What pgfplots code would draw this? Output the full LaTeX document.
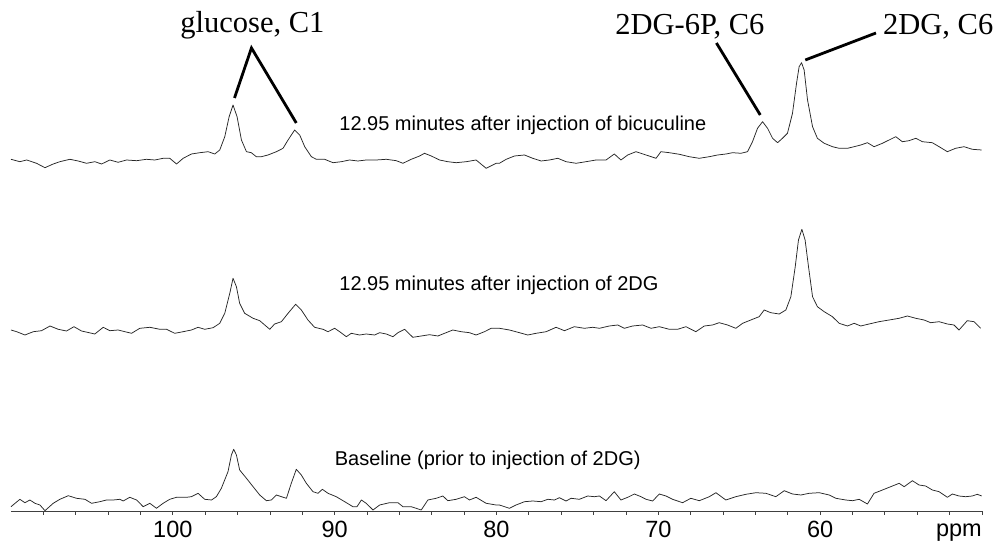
\documentclass[border=0pt]{standalone}
\usepackage{fontspec}
\setmainfont{Liberation Sans}
\newfontfamily\serif{Liberation Serif}
\usepackage{pgfplots}
\pgfplotsset{compat=1.18}

\begin{document}
\begin{tikzpicture}
\begin{axis}[
    scale only axis,
    width=971pt, height=511pt,
    xmin=50, xmax=110, ymin=0, ymax=511,
    x dir=reverse,
    axis x line*=bottom, axis y line=none,
    x axis line style={-, black!75, line width=0.9pt},
    xtick={60,70,80,90,100},
    minor xtick={50,52,...,108},
    tick align=outside,
    major tick length=4pt, minor tick length=4pt,
    every tick/.style={black!75, line width=0.8pt},
    xticklabel style={font=\fontsize{23.5}{25}\selectfont, inner sep=1pt, yshift=-4.5pt},
    /pgf/number format/assume math mode=true,
    clip=false,
    trace/.style={black!85, line width=0.75pt, line join=round},
]
% bottom: baseline (prior to injection of 2DG)
\addplot[trace] coordinates {
(110.00,4.3) (109.45,11.7) (109.14,8.3) (108.83,11) (108.52,7.7) (108.21,6) (107.90,0.3)
(107.39,7.7) (106.98,11.7) (106.46,15.3) (105.95,12.7) (105.43,11.7) (105.02,7.7) (104.51,9.3)
(104.10,11) (103.68,11) (103.27,11.7) (103.07,10) (102.66,13.7) (102.24,11) (101.83,4.3)
(101.42,7.7) (101.01,2.7) (100.60,7.7) (100.19,11.7) (99.77,13.7) (99.16,13.7) (98.85,14.3)
(98.44,17.7) (98.03,11.7) (97.61,11) (97.31,14.3) (97.00,22.7) (96.59,39.3) (96.38,56)
(96.24,61.7) (96.07,56) (95.87,41) (95.45,32.7) (95.04,24.3) (94.63,16) (94.22,10.3)
(93.91,11) (93.60,16) (93.29,14.3) (92.98,12.7) (92.68,27.7) (92.37,41.7) (92.06,36)
(91.75,27.7) (91.34,19.3) (91.03,17.7) (90.76,21.7) (90.41,17.7) (89.90,14.3) (89.38,9.3)
(88.87,4.3) (88.62,4.3) (88.35,11) (88.05,7.7) (87.63,1) (87.22,6) (86.61,8.3) (86.09,8.3)
(85.78,4.3) (85.27,4.3) (84.96,2.7) (84.65,1) (84.24,11) (83.73,12.7) (83.31,15) (83.01,10.3)
(82.49,11.7) (81.98,14.3) (81.67,11) (81.26,13.7) (80.64,7.7) (80.02,6) (79.82,6) (79.20,2.7)
(78.79,6) (78.27,9.3) (77.76,10) (77.24,9.3) (76.83,11.7) (76.42,11) (76.11,13.3) (75.91,11.7)
(75.70,10) (75.39,12.7) (74.88,11.7) (74.36,15) (73.95,14.3) (73.64,15) (73.23,10.3) (72.72,19.3)
(72.31,11) (71.89,13.7) (71.48,17) (71.07,14.3) (70.76,11.7) (70.35,10) (69.94,17) (69.53,15)
(69.12,11.7) (68.50,8.3) (67.99,12.7) (67.47,10.3) (66.85,14.3) (66.44,18.3) (65.83,11)
(65.21,14.3) (64.59,16.7) (63.97,18.3) (63.35,17.7) (62.74,14.3) (62.22,20.3) (61.71,17)
(61.19,16) (60.68,17.7) (60.06,18.3) (59.44,16) (59.03,12.7) (58.42,11) (58.00,10.3) (57.59,11.7)
(57.08,7) (56.67,17.7) (56.15,21) (55.64,24.3) (55.12,27.7) (54.81,24.3) (54.30,30.3) (53.89,26)
(53.48,25) (53.07,21) (52.65,19.3) (52.14,13.7) (51.83,17) (51.42,15) (51.01,14.3) (50.60,15)
(50.29,16.7) (50.02,15)
};
% middle: 12.95 minutes after injection of 2DG
\addplot[trace] coordinates {
(110.00,181) (109.65,179.3) (109.14,176) (108.62,179.3) (108.11,180.3) (107.59,185) (107.08,181.7)
(106.57,180) (106.11,184.3) (105.64,180) (104.82,177) (104.30,183.7) (103.89,180.3) (103.38,181)
(102.96,179.3) (102.55,177.7) (102.04,182.7) (101.42,183.7) (100.80,181.7) (100.39,181.7)
(99.88,177.7) (99.36,179.3) (98.85,181) (98.44,183.7) (98.03,181.7) (97.51,183.3) (97.10,187.7)
(96.79,197.7) (96.48,217.7) (96.28,232.7) (96.07,224.3) (95.87,207.7) (95.56,197.7) (95.04,192.7)
(94.63,190.3) (94.32,186) (94.01,181.7) (93.71,187) (93.29,189.3) (92.88,197.7) (92.41,206.7)
(92.06,201) (91.65,191) (91.24,183.7) (90.72,181.7) (90.41,179.3) (90.00,182.7) (89.69,179.3)
(89.28,174.3) (88.97,177.7) (88.46,176) (88.05,177) (87.53,176) (87.22,178.3) (86.81,177)
(86.40,174.3) (86.09,178.3) (85.68,181.7) (85.17,173.7) (84.65,175) (84.14,176.3) (83.62,175)
(83.21,177.7) (82.70,181) (82.18,179.3) (81.67,178.3) (81.26,176) (80.74,179.3) (80.33,182.7)
(79.82,182.7) (79.20,181) (78.58,178.3) (78.07,176) (77.55,177.7) (76.93,179.3) (76.32,183.7)
(75.80,180.3) (75.19,184.3) (74.57,182.7) (74.05,183.7) (73.64,182.7) (73.03,185) (72.51,186)
(72.10,182.7) (71.59,185) (70.97,186) (70.45,182.7) (69.94,184.3) (69.32,181.7) (68.81,181.7)
(68.29,184.3) (67.68,179.3) (67.16,185) (66.65,186) (66.24,188.3) (65.72,186) (65.21,182.7)
(64.79,187.7) (64.18,191.7) (63.77,194.3) (63.46,201) (63.05,198.3) (62.53,197) (62.12,201)
(61.81,214.3) (61.54,244.3) (61.34,271) (61.13,281.7) (60.93,271) (60.72,244.3) (60.47,214.3)
(60.17,204.3) (59.75,199.3) (59.24,194.3) (58.83,187.7) (58.31,185) (57.90,187.7) (57.49,185)
(56.98,187) (56.36,189.3) (55.74,191) (55.12,192.7) (54.61,195) (54.09,192.7) (53.58,191)
(53.17,188.3) (52.65,189.3) (52.14,187) (51.73,186) (51.42,181) (50.91,190.3) (50.49,189.3)
(50.08,182.7)
};
% top: 12.95 minutes after injection of bicuculine
\addplot[trace] coordinates {
(110.00,351.7) (109.45,349.3) (109.03,351) (108.42,347.7) (107.90,343.3) (107.39,347) (106.98,349.3)
(106.36,351.7) (105.85,350) (105.33,347.7) (104.82,349.3) (104.40,347) (103.89,351) (103.38,348.7)
(102.86,351) (102.24,350.3) (101.63,351.7) (101.11,351) (100.60,352.7) (100.19,352.7) (99.77,347)
(99.36,352.7) (98.85,357) (98.33,358.3) (97.82,359.3) (97.41,357) (97.10,361) (96.79,374.3)
(96.52,394.3) (96.28,406) (96.03,394.3) (95.76,371) (95.45,359.3) (95.15,358.3) (94.84,354.3)
(94.53,354.3) (94.12,356) (93.60,359.3) (93.19,362.7) (92.88,371) (92.47,381) (92.16,376)
(91.85,364.3) (91.44,354.3) (91.13,351.7) (90.62,351.7) (90.10,348.3) (89.59,349.3) (89.08,351)
(88.56,350) (88.05,351) (87.43,351) (86.81,351.7) (86.19,350.3) (85.78,347.7) (85.27,351.7)
(84.75,355) (84.45,357.7) (84.03,355) (83.52,351) (83.01,349.3) (82.49,348.3) (81.87,349.3)
(81.26,351) (80.64,342.7) (80.02,347.7) (79.82,347.7) (79.40,351.7) (78.89,355) (78.27,356)
(77.76,352.7) (77.24,350) (76.73,351) (76.21,352.7) (75.70,349.3) (75.08,347.7) (74.47,349.3)
(73.85,351) (73.23,351) (72.72,357) (72.31,351) (71.89,356) (71.38,359.3) (70.76,356)
(70.14,352.7) (69.84,359.3) (69.32,358.3) (68.70,356.7) (68.09,354.3) (67.47,352.7) (66.85,354.3)
(66.34,356) (65.82,357) (65.41,358.3) (64.90,357.7) (64.49,359.3) (64.18,369.3) (63.87,382.7)
(63.56,389.3) (63.25,382.7) (62.94,372.7) (62.63,368.3) (62.33,372.7) (62.02,377.7) (61.71,397.7)
(61.46,427.7) (61.30,444.3) (61.15,448.3) (60.99,441) (60.78,411) (60.47,384.3) (60.17,372.7)
(59.75,367.7) (59.24,364.3) (58.83,362.7) (58.31,362.7) (57.90,364.3) (57.49,366) (57.08,368.3)
(56.67,364.3) (56.15,367.7) (55.74,371) (55.33,374.3) (54.92,369.3) (54.51,370.3) (54.09,372.7)
(53.68,369.3) (53.07,368.3) (52.65,364.3) (52.14,359.3) (51.63,362.7) (51.11,364.3) (50.60,361.7)
(50.02,361)
};
% trace labels
\node[anchor=west, font=\fontsize{20}{22}\selectfont, inner sep=0pt] at (axis cs:89.72,386) {12.95 minutes after injection of bicuculine};
\node[anchor=west, font=\fontsize{20}{22}\selectfont, inner sep=0pt] at (axis cs:89.72,226) {12.95 minutes after injection of 2DG};
\node[anchor=west, font=\fontsize{20}{22}\selectfont, inner sep=0pt] at (axis cs:90.0,51) {Baseline (prior to injection of 2DG)};
% peak labels
\node[anchor=base, font=\serif\fontsize{30.5}{34}\selectfont, inner sep=0pt] at (axis cs:95.08,478) {glucose, C1};
\node[anchor=base, font=\serif\fontsize{30.5}{34}\selectfont, inner sep=0pt] at (axis cs:68.05,476) {2DG-6P, C6};
\node[anchor=base west, font=\serif\fontsize{30.5}{34}\selectfont, inner sep=0pt] at (axis cs:56.12,476) {2DG, C6};
\draw[line width=2.8pt] (axis cs:96.19,413) -- (axis cs:95.14,463) -- (axis cs:92.37,388);
\draw[line width=2.8pt] (axis cs:66.41,468) -- (axis cs:63.70,396);
\draw[line width=2.8pt] (axis cs:60.92,451) -- (axis cs:56.55,478);
% unit
\node[anchor=base east, font=\fontsize{23.5}{25}\selectfont, inner sep=0pt] at (axis cs:50,-25.7) {ppm};
\end{axis}
\pgfresetboundingbox
\useasboundingbox (-11pt,-32pt) rectangle (988pt,511pt);
\end{tikzpicture}
\end{document}
